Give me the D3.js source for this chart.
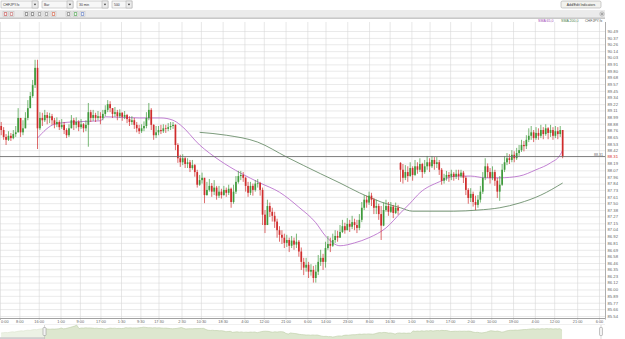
<!DOCTYPE html>
<html>
<head>
<meta charset="utf-8">
<script src="https://cdn.jsdelivr.net/npm/d3@7"></script>
<style>
  body { margin: 0; background: #fff; }
  svg { display: block; font-family: "Liberation Sans", Arial, sans-serif; }
</style>
</head>
<body>
<svg id="chart" width="625" height="339"></svg>
<script>
// CHFJPY.fx, one candle per hour. Opens follow the previous close.
const firstOpen = 88.84;
const gapOpens = [[165, 88.20]]; // [candle, open] where price gapped

const closes = [
  88.77, 88.65, 88.60, 88.67, 88.63, 88.70, 88.73, 88.98, 88.73, 88.80,
  88.98, 89.15, 89.36, 89.55, 89.85, 88.80, 88.98, 88.94, 89.03, 88.98,
  89.01, 88.94, 88.87, 88.91, 88.82, 88.86, 88.77, 88.68, 88.80, 88.94,
  88.86, 88.91, 88.82, 88.87, 88.80, 88.86, 89.08, 88.98, 89.03, 88.98,
  89.01, 88.98, 89.05, 89.12, 89.22, 89.15, 89.05, 89.08, 89.01, 89.07,
  89.00, 89.03, 88.96, 88.91, 88.94, 88.86, 88.80, 88.75, 88.80, 88.84,
  88.98, 89.12, 88.86, 88.68, 88.73, 88.77, 88.75, 88.80, 88.79, 88.82,
  88.84, 88.86, 88.51, 88.28, 88.21, 88.28, 88.18, 88.21, 88.11, 88.16,
  88.04, 87.82, 87.90, 87.94, 87.64, 87.73, 87.80, 87.70, 87.77, 87.63,
  87.70, 87.64, 87.73, 87.68, 87.75, 87.52, 87.70, 87.87, 87.97, 87.99,
  87.94, 87.80, 87.68, 87.80, 87.73, 87.84, 87.85, 87.73, 87.30, 87.12,
  87.45, 87.35, 87.28, 87.18, 87.03, 86.95, 86.90, 86.81, 86.86, 86.76,
  86.85, 86.78, 86.83, 86.66, 86.48, 86.38, 86.43, 86.31, 86.34, 86.20,
  86.31, 86.48, 86.55, 86.48, 86.72, 86.79, 86.76, 86.86, 86.93, 86.90,
  87.00, 87.10, 87.03, 87.14, 87.09, 87.17, 87.12, 87.07, 87.21, 87.42,
  87.56, 87.51, 87.63, 87.56, 87.42, 87.45, 87.31, 87.11, 87.38, 87.45,
  87.35, 87.44, 87.33, 87.42, 87.37, 88.08, 87.94, 88.04, 87.97, 88.11,
  87.99, 88.14, 88.08, 88.18, 88.04, 88.14, 88.21, 88.14, 88.25, 88.18,
  88.21, 88.08, 87.89, 87.94, 87.99, 87.96, 88.01, 87.96, 88.01, 87.97,
  88.03, 87.94, 87.73, 87.59, 87.66, 87.52, 87.47, 87.56, 87.70, 87.94,
  88.14, 88.04, 87.94, 88.04, 87.89, 87.70, 87.82, 88.08, 88.21, 88.28,
  88.25, 88.34, 88.28, 88.37, 88.42, 88.51, 88.49, 88.60, 88.67, 88.73,
  88.63, 88.72, 88.67, 88.77, 88.70, 88.80, 88.72, 88.77, 88.67, 88.75,
  88.70, 88.77, 88.31
];

const highs = [
  88.91, 88.82, 88.70, 88.75, 88.72, 88.77, 88.84, 89.15, 88.86, 88.94,
  89.08, 89.29, 89.43, 89.64, 89.99, 89.99, 89.08, 89.07, 89.12, 89.08,
  89.07, 89.05, 88.98, 88.99, 88.94, 88.96, 88.91, 88.80, 88.87, 89.03,
  88.98, 88.99, 88.94, 88.96, 88.89, 88.94, 89.24, 89.12, 89.12, 89.07,
  89.10, 89.08, 89.12, 89.20, 89.29, 89.27, 89.15, 89.17, 89.12, 89.13,
  89.08, 89.10, 89.05, 89.01, 89.01, 88.98, 88.91, 88.86, 88.87, 88.92,
  89.08, 89.24, 89.15, 88.87, 88.84, 88.84, 88.86, 88.87, 88.86, 88.89,
  88.91, 88.91, 88.87, 88.54, 88.34, 88.35, 88.30, 88.28, 88.25, 88.25,
  88.18, 88.08, 87.99, 88.03, 87.94, 87.87, 87.92, 87.85, 87.90, 87.80,
  87.80, 87.75, 87.80, 87.77, 87.82, 87.77, 87.82, 87.97, 88.06, 88.06,
  88.04, 87.96, 87.87, 87.87, 87.84, 87.90, 87.92, 87.87, 87.77, 87.38,
  87.56, 87.51, 87.42, 87.35, 87.23, 87.10, 87.03, 86.97, 86.95, 86.90,
  86.93, 86.90, 86.97, 86.86, 86.73, 86.55, 86.55, 86.48, 86.44, 86.41,
  86.43, 86.60, 86.69, 86.62, 86.83, 86.93, 86.90, 86.97, 87.03, 87.02,
  87.12, 87.21, 87.16, 87.24, 87.21, 87.28, 87.23, 87.21, 87.31, 87.52,
  87.64, 87.63, 87.70, 87.68, 87.59, 87.56, 87.49, 87.45, 87.51, 87.56,
  87.52, 87.52, 87.47, 87.51, 87.47, 88.21, 88.18, 88.16, 88.14, 88.21,
  88.14, 88.25, 88.21, 88.28, 88.20, 88.25, 88.32, 88.28, 88.32, 88.30,
  88.30, 88.25, 88.11, 88.01, 88.06, 88.04, 88.08, 88.04, 88.08, 88.08,
  88.08, 88.06, 87.97, 87.76, 87.76, 87.70, 87.63, 87.64, 87.80, 88.04,
  88.28, 88.19, 88.11, 88.14, 88.08, 87.94, 87.97, 88.18, 88.32, 88.37,
  88.35, 88.42, 88.40, 88.46, 88.51, 88.60, 88.58, 88.68, 88.80, 88.84,
  88.77, 88.82, 88.80, 88.86, 88.82, 88.87, 88.82, 88.86, 88.82, 88.84,
  88.82, 88.84, 88.77
];

const lows = [
  88.68, 88.60, 88.51, 88.58, 88.58, 88.61, 88.65, 88.75, 88.65, 88.68,
  88.86, 88.94, 89.15, 89.33, 89.50, 88.44, 88.77, 88.84, 88.91, 88.87,
  88.89, 88.86, 88.80, 88.82, 88.77, 88.79, 88.70, 88.63, 88.65, 88.80,
  88.77, 88.80, 88.75, 88.79, 88.73, 88.75, 88.48, 88.91, 88.93, 88.91,
  88.94, 88.87, 88.94, 89.01, 89.08, 89.08, 88.98, 89.00, 88.94, 88.98,
  88.93, 88.96, 88.89, 88.84, 88.86, 88.79, 88.73, 88.70, 88.72, 88.75,
  88.80, 88.94, 88.77, 88.60, 88.63, 88.68, 88.70, 88.72, 88.72, 88.75,
  88.77, 88.79, 88.42, 88.20, 88.13, 88.16, 88.11, 88.11, 88.04, 88.08,
  87.96, 87.77, 87.80, 87.84, 87.50, 87.63, 87.70, 87.61, 87.64, 87.56,
  87.59, 87.58, 87.63, 87.61, 87.64, 87.42, 87.49, 87.66, 87.84, 87.90,
  87.87, 87.70, 87.61, 87.64, 87.63, 87.70, 87.77, 87.63, 87.12, 86.98,
  87.18, 87.26, 87.18, 87.07, 86.90, 86.83, 86.79, 86.72, 86.74, 86.65,
  86.72, 86.69, 86.72, 86.57, 86.34, 86.25, 86.31, 86.20, 86.24, 86.12,
  86.12, 86.25, 86.41, 86.34, 86.38, 86.69, 86.65, 86.74, 86.81, 86.83,
  86.90, 86.98, 86.97, 87.03, 87.00, 87.05, 87.03, 86.98, 87.03, 87.17,
  87.38, 87.42, 87.47, 87.45, 87.31, 87.31, 87.21, 86.86, 87.10, 87.35,
  87.28, 87.33, 87.24, 87.31, 87.30, 87.87, 87.84, 87.90, 87.87, 87.96,
  87.89, 87.97, 88.01, 88.04, 87.94, 88.01, 88.08, 88.04, 88.11, 88.08,
  88.11, 87.99, 87.82, 87.84, 87.89, 87.87, 87.90, 87.89, 87.92, 87.90,
  87.94, 87.85, 87.64, 87.49, 87.52, 87.44, 87.38, 87.42, 87.51, 87.66,
  87.90, 87.94, 87.84, 87.90, 87.80, 87.59, 87.54, 87.80, 88.04, 88.16,
  88.18, 88.21, 88.21, 88.25, 88.32, 88.39, 88.40, 88.44, 88.56, 88.60,
  88.56, 88.60, 88.60, 88.63, 88.61, 88.67, 88.61, 88.65, 88.60, 88.63,
  88.61, 88.65, 88.28
];

// moving averages, read at a few candles
const sma65Idx = [15, 22, 29, 41, 43, 57, 66, 71, 74, 82, 90, 99, 107, 115, 123, 130, 134,
  140, 146, 152, 159, 165, 169, 173, 181, 188, 194, 200, 206, 214, 221, 227, 231, 232];
const sma65Val = [88.63, 88.87, 88.91, 88.93, 89.00, 88.98, 88.98, 88.94, 88.86, 88.51, 88.25,
  88.02, 87.85, 87.69, 87.43, 87.16, 86.93, 86.76, 86.81, 86.90, 87.07, 87.33, 87.50, 87.68,
  87.87, 87.97, 87.97, 87.94, 87.94, 87.97, 88.08, 88.20, 88.34, 88.42];
const sma200Idx = [82, 93, 106, 118, 132, 140, 148, 157, 165, 170, 187, 197, 206, 214, 223, 232];
const sma200Val = [88.73, 88.68, 88.56, 88.30, 88.01, 87.85, 87.68, 87.52, 87.42, 87.36, 87.36,
  87.38, 87.42, 87.50, 87.64, 87.85];

// navigator: hourly closes before the visible window
const navHistory = [87.45, 87.52, 87.60, 87.55, 87.68, 87.80, 87.74, 87.88, 88.00, 88.10,
  88.04, 88.20, 88.30, 88.24, 88.40, 88.50, 88.44, 88.60, 88.70, 88.76];

const yTicks = [90.49, 90.37, 90.26, 90.14, 90.03, 89.91, 89.80, 89.68, 89.57, 89.45, 89.34,
  89.22, 89.11, 88.99, 88.88, 88.76, 88.65, 88.53, 88.42, 88.31, 88.19, 88.07, 87.96, 87.84,
  87.73, 87.61, 87.50, 87.38, 87.27, 87.15, 87.04, 86.92, 86.81, 86.69, 86.58, 86.46, 86.35,
  86.23, 86.12, 86.00, 85.89, 85.77, 85.66, 85.54];

// x ticks, in 30 minute bars from the left edge
const xTickBars = [0, 16, 32, 50, 66, 83, 100, 116, 131, 150, 166, 184, 202, 218, 236, 254,
  269, 287, 305, 322, 340, 355, 372, 389, 406, 424, 442, 458, 477, 495];
const xTickLabels = ['0:00', '8:00', '16:00', '1:00', '9:00', '17:00', '1:30', '9:30', '17:30',
  '2:30', '10:30', '18:30', '4:00', '12:00', '21:00', '6:00', '14:00', '23:00', '8:00', '16:30',
  '1:00', '9:00', '17:00', '2:00', '10:00', '19:00', '4:00', '12:00', '21:00', '6:00'];

const dropdowns = ['CHFJPY.fx', 'Bar', '30 min', '500'];

const UP = '#3f9a3c';
const DOWN = '#d02c2c';

const svg = d3.select('#chart');
const plot = {left: 0, right: 605, top: 22, bottom: 318};

const x = d3.scaleLinear().domain([0, 500]).range([plot.left, plot.right]);
const y = d3.scaleLinear().domain([85.54, 90.49]).range([316, 31]);
const lastClose = closes[closes.length - 1];

// ---- toolbar -------------------------------------------------------------
const boxX = [1, 42, 77, 112];
const boxW = [37, 31, 31, 20];
const toolbar = svg.append('g');
dropdowns.forEach((label, i) => {
  const g = toolbar.append('g').attr('transform', `translate(${boxX[i]},1)`);
  g.append('rect').attr('width', boxW[i]).attr('height', 7)
    .attr('fill', '#f7f7f7').attr('stroke', '#a9a9a9').attr('stroke-width', 0.5);
  g.append('rect').attr('x', boxW[i] - 6).attr('width', 6).attr('height', 7)
    .attr('fill', '#ececec').attr('stroke', '#a9a9a9').attr('stroke-width', 0.5);
  g.append('path').attr('d', `M${boxW[i] - 4.2},2.8h2.4l-1.2,1.6z`).attr('fill', '#333');
  g.append('text').attr('x', 2).attr('y', 4.9).attr('font-size', 3.4).attr('fill', '#333')
    .text(label);
});

const btn = toolbar.append('g').attr('transform', 'translate(561,1)');
btn.append('rect').attr('width', 40).attr('height', 7).attr('rx', 1.5)
  .attr('fill', '#f2f2ee').attr('stroke', '#9a9a9a').attr('stroke-width', 0.5);
btn.append('text').attr('x', 20).attr('y', 4.8).attr('text-anchor', 'middle')
  .attr('font-size', 3.4).attr('fill', '#333').text('Add/Edit Indicators');

// icon strip
toolbar.append('rect').attr('x', 0).attr('y', 10).attr('width', plot.right).attr('height', 8)
  .attr('fill', '#ebebeb');
toolbar.append('line').attr('x1', 0).attr('x2', plot.right).attr('y1', 18.2).attr('y2', 18.2)
  .attr('stroke', '#9c9c9c').attr('stroke-width', 0.8);
const iconX = [3, 9, 24, 30, 37, 44, 51, 66, 73, 80];
const iconC = ['#c04040', '#c06060', '#555', '#555', '#777', '#777', '#d05030', '#666', '#3a9a3a', '#5070c0'];
iconX.forEach((ix, i) => {
  toolbar.append('rect').attr('x', ix).attr('y', 11.5).attr('width', 5).attr('height', 5)
    .attr('fill', '#f6f6f6').attr('stroke', '#b0b0b0').attr('stroke-width', 0.4);
  toolbar.append('rect').attr('x', ix + 1.2).attr('y', 12.7).attr('width', 2.6).attr('height', 2.6)
    .attr('fill', 'none').attr('stroke', iconC[i]).attr('stroke-width', 0.6);
});
toolbar.append('circle').attr('cx', 602).attr('cy', 14).attr('r', 2.3)
  .attr('fill', '#d8d8d8').attr('stroke', '#999').attr('stroke-width', 0.4);
toolbar.append('path').attr('d', 'M601,13l2,2M603,13l-2,2').attr('stroke', '#777').attr('stroke-width', 0.5);

// legend
const legend = [['SMA 65,0', '#a54bb8', 538], ['SMA 200,0', '#4f7d4c', 561], ['CHFJPY.fx', '#555', 585]];
legend.forEach(([t, c, lx]) => {
  svg.append('text').attr('x', lx).attr('y', 21.6).attr('font-size', 3.6).attr('fill', c).text(t);
});

// ---- grid -----------------------------------------------------------------
svg.append('g')
  .attr('transform', `translate(${plot.right},0)`)
  .call(d3.axisLeft(y).tickValues(yTicks).tickSize(plot.right - plot.left).tickFormat(''))
  .call(g => g.select('.domain').remove())
  .selectAll('line').attr('stroke', '#dcdcdc').attr('stroke-width', 0.6);

svg.append('g')
  .attr('transform', `translate(0,${plot.bottom})`)
  .call(d3.axisBottom(x).tickValues(xTickBars).tickSize(-(plot.bottom - plot.top)).tickFormat(''))
  .call(g => g.select('.domain').remove())
  .selectAll('line').attr('stroke', '#d6d6d6').attr('stroke-width', 0.6);

// ---- moving averages ------------------------------------------------------
const smaLine = d3.line()
  .x(d => x(2 * d[0] + 1))
  .y(d => y(d[1]))
  .curve(d3.curveMonotoneX);

svg.append('path').datum(d3.zip(sma200Idx, sma200Val)).attr('d', smaLine)
  .attr('fill', 'none').attr('stroke', '#5a825a').attr('stroke-width', 0.8);
svg.append('path').datum(d3.zip(sma65Idx, sma65Val)).attr('d', smaLine)
  .attr('fill', 'none').attr('stroke', '#b262c8').attr('stroke-width', 0.8);

// ---- candles --------------------------------------------------------------
const candles = closes.map((c, i) => {
  let open = i === 0 ? firstOpen : closes[i - 1];
  const gap = gapOpens.find(g => g[0] === i);
  if (gap) open = gap[1];
  return {i, open, close: c, high: Math.max(highs[i], open, c), low: Math.min(lows[i], open, c)};
});
const colour = d => (d.close >= d.open ? UP : DOWN);

const cg = svg.append('g');
cg.selectAll('line').data(candles).join('line')
  .attr('x1', d => x(2 * d.i + 1)).attr('x2', d => x(2 * d.i + 1))
  .attr('y1', d => y(d.high)).attr('y2', d => y(d.low))
  .attr('stroke', colour).attr('stroke-width', 0.7);
cg.selectAll('rect').data(candles).join('rect')
  .attr('x', d => x(2 * d.i + 1) - 0.85).attr('width', 1.7)
  .attr('y', d => y(Math.max(d.open, d.close)))
  .attr('height', d => Math.max(0.7, Math.abs(y(d.open) - y(d.close))))
  .attr('fill', colour);

// ---- last price line ------------------------------------------------------
svg.append('line').attr('x1', plot.left).attr('x2', plot.right)
  .attr('y1', y(lastClose)).attr('y2', y(lastClose))
  .attr('stroke', '#6a6a6a').attr('stroke-width', 0.8);
svg.append('text').attr('x', plot.right - 2).attr('y', y(lastClose) - 0.9)
  .attr('text-anchor', 'end').attr('font-size', 3.6).attr('fill', '#666')
  .text(d3.format('.2f')(lastClose));

// ---- axes -----------------------------------------------------------------
const yAxis = svg.append('g')
  .attr('transform', `translate(${plot.right},0)`)
  .call(d3.axisRight(y).tickValues(yTicks).tickSize(0).tickPadding(2.5).tickFormat(d3.format('.2f')))
  .call(g => g.select('.domain').remove());
yAxis.selectAll('text').attr('font-size', 4.2).attr('fill', '#666')
  .attr('font-family', '"Liberation Sans", Arial, sans-serif')
  .filter(d => d === lastClose).attr('fill', '#d52a2a');
svg.append('line').attr('x1', plot.right + 0.5).attr('x2', plot.right + 0.5)
  .attr('y1', plot.top).attr('y2', plot.bottom).attr('stroke', '#999').attr('stroke-width', 0.8);

const xAxis = svg.append('g')
  .attr('transform', `translate(0,${plot.bottom})`)
  .call(d3.axisBottom(x).tickValues(xTickBars).tickSize(1.5).tickPadding(1)
    .tickFormat((d, i) => xTickLabels[i]));
xAxis.select('.domain').attr('stroke', '#8a8a8a').attr('stroke-width', 0.8);
xAxis.selectAll('line').attr('stroke', '#999').attr('stroke-width', 0.5);
xAxis.selectAll('text').attr('font-size', 3.9).attr('fill', '#666')
  .attr('font-family', '"Liberation Sans", Arial, sans-serif');
// the first label sits on the left edge: keep it inside the picture
xAxis.selectAll('text').filter(d => d === 0).attr('text-anchor', 'start').attr('x', 0.5);

// ---- navigator ------------------------------------------------------------
const navX = d3.scaleLinear().domain([-40, 500]).range([0, 601]);
const navY = d3.scaleLinear().domain([85.6, 90.2]).range([339, 324]);
const navPoints = navHistory.map((v, j) => [2 * j - 39, v])
  .concat(closes.map((v, i) => [2 * i + 1, v]));

svg.append('line').attr('x1', 0).attr('x2', plot.right).attr('y1', 324.5).attr('y2', 324.5)
  .attr('stroke', '#e6e6e6').attr('stroke-width', 0.6);
svg.append('path').datum(navPoints)
  .attr('d', d3.area().x(d => navX(d[0])).y0(339).y1(d => navY(d[1])))
  .attr('fill', '#dde7cf');
svg.append('path').datum(navPoints)
  .attr('d', d3.line().x(d => navX(d[0])).y(d => navY(d[1])))
  .attr('fill', 'none').attr('stroke', '#bccca6').attr('stroke-width', 0.6);
svg.append('rect').attr('x', 0).attr('y', 324).attr('width', navX(0)).attr('height', 15)
  .attr('fill', '#fff').attr('opacity', 0.45);
svg.append('rect').attr('x', 0).attr('y', 337.2).attr('width', navX(0)).attr('height', 1.8)
  .attr('fill', '#cfcfcf');
[0, 500].forEach(b => {
  const hx = navX(b);
  svg.append('line').attr('x1', hx).attr('x2', hx).attr('y1', 325).attr('y2', 339)
    .attr('stroke', '#b5b5b5').attr('stroke-width', 0.5);
  svg.append('rect').attr('x', hx - 1.5).attr('y', 327.5).attr('width', 3).attr('height', 8)
    .attr('rx', 0.8).attr('fill', '#f3f3f3').attr('stroke', '#8d8d8d').attr('stroke-width', 0.5);
});
</script>
</body>
</html>
